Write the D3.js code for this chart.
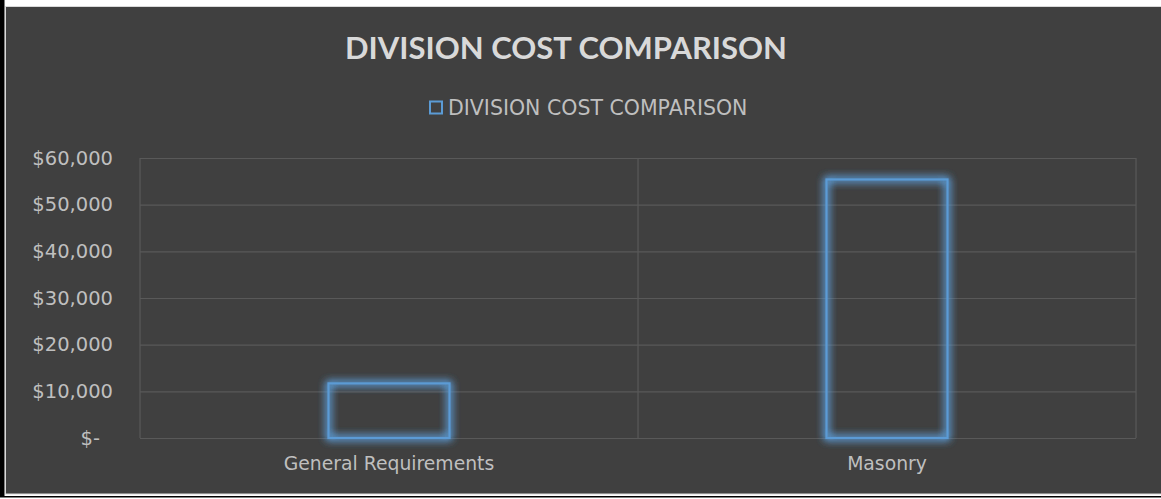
<!DOCTYPE html>
<html>
<head>
<meta charset="utf-8">
<script src="https://cdn.jsdelivr.net/npm/d3@7"></script>
<style>
  html, body { margin: 0; padding: 0; background: #fff; }
  svg { display: block; }
  text { font-family: "DejaVu Sans", Lato, sans-serif; }
  .title { font-family: Lato, "Open Sans", sans-serif; }
</style>
</head>
<body>
<div id="chart"></div>
<script>
// chart values
const title = 'DIVISION COST COMPARISON';
const seriesName = 'DIVISION COST COMPARISON';
const categories = ['General Requirements', 'Masonry'];
const costs = [11700, 55400];
const yTicks = [0, 10000, 20000, 30000, 40000, 50000, 60000];

const W = 1161, H = 499;
const M = { t: 158, r: 25, b: 61, l: 140 };
const C = { bg: '#404040', grid: '#595959', text: '#bfbfbf', title: '#d9d9d9', blue: '#5b9bd5' };

const svg = d3.select('#chart').append('svg')
  .attr('width', W)
  .attr('height', H)
  .attr('viewBox', `0 0 ${W} ${H}`);

// glow for the bar outlines
const defs = svg.append('defs');
const glow = defs.append('filter').attr('id', 'glow')
  .attr('x', '-30%').attr('y', '-30%').attr('width', '160%').attr('height', '160%');
glow.append('feGaussianBlur').attr('in', 'SourceGraphic').attr('stdDeviation', 4.5).attr('result', 'b');
glow.append('feComponentTransfer').attr('in', 'b').attr('result', 'b2')
  .append('feFuncA').attr('type', 'linear').attr('slope', 3);
const mg = glow.append('feMerge');
mg.append('feMergeNode').attr('in', 'b2');
mg.append('feMergeNode').attr('in', 'SourceGraphic');

// frame
svg.append('rect').attr('x', 0).attr('y', 0).attr('width', 4.5).attr('height', 497).attr('fill', '#000');
svg.append('rect').attr('x', 0).attr('y', 496).attr('width', W).attr('height', 1.5).attr('fill', '#000');
svg.append('rect')
  .attr('x', 5.5).attr('y', 6.5).attr('width', W).attr('height', 487.5)
  .attr('fill', C.bg).attr('stroke', '#d9d9d9').attr('stroke-width', 1);

const x = d3.scaleBand()
  .domain(categories)
  .range([M.l, W - M.r])
  .padding(0);
const y = d3.scaleLinear()
  .domain([0, 60000])
  .range([H - M.b, M.t]);

// horizontal gridlines
svg.append('g')
  .attr('transform', `translate(${M.l},0)`)
  .call(d3.axisLeft(y).tickValues(yTicks).tickSize(-(W - M.l - M.r)).tickFormat(''))
  .call(g => g.select('.domain').remove())
  .call(g => g.selectAll('line').attr('stroke', C.grid).attr('stroke-width', 1.2));

// vertical gridlines at category boundaries
const bounds = categories.map(c => x(c)).concat([x(categories[categories.length - 1]) + x.bandwidth()]);
svg.append('g').selectAll('line')
  .data(bounds)
  .enter().append('line')
  .attr('x1', d => d).attr('x2', d => d)
  .attr('y1', y(60000)).attr('y2', y(0))
  .attr('stroke', C.grid).attr('stroke-width', 1.2);

// y axis labels
const fmt = d3.format(',');
svg.append('g')
  .attr('transform', `translate(${M.l},0)`)
  .call(d3.axisLeft(y).tickValues(yTicks).tickSize(0).tickPadding(27)
    .tickFormat(d => d === 0 ? '$-' : '$' + fmt(d)))
  .call(g => g.select('.domain').remove())
  .call(g => g.selectAll('text')
    .attr('fill', C.text)
    .style('font-size', '19.5px')
    .attr('dx', d => d === 0 ? -13 : 0));

// x axis labels
svg.append('g')
  .attr('transform', `translate(0,${y(0)})`)
  .call(d3.axisBottom(x).tickSize(0).tickPadding(19))
  .call(g => g.select('.domain').remove())
  .call(g => g.selectAll('text').attr('fill', C.text).style('font-size', '18.8px'));

// bars (outline only, glowing)
const barW = x.bandwidth() * 0.243;
svg.append('g').selectAll('rect')
  .data(costs)
  .enter().append('rect')
  .attr('x', (d, i) => x(categories[i]) + (x.bandwidth() - barW) / 2)
  .attr('width', barW)
  .attr('y', d => y(d))
  .attr('height', d => y(0) - y(d))
  .attr('fill', 'none')
  .attr('stroke', C.blue)
  .attr('stroke-width', 2.2)
  .attr('filter', 'url(#glow)');

// title
svg.append('text')
  .attr('class', 'title')
  .attr('x', 566).attr('y', 59)
  .attr('text-anchor', 'middle')
  .attr('fill', C.title)
  .style('font-size', '31px')
  .style('font-weight', 'bold')
  .text(title);

// legend
const lg = svg.append('g').attr('transform', 'translate(430,101.5)');
lg.append('rect').attr('width', 12).attr('height', 12)
  .attr('fill', 'none').attr('stroke', C.blue).attr('stroke-width', 2);
lg.append('text')
  .attr('x', 18).attr('y', 13)
  .attr('fill', C.text)
  .style('font-size', '20.5px')
  .text(seriesName);
</script>
</body>
</html>
